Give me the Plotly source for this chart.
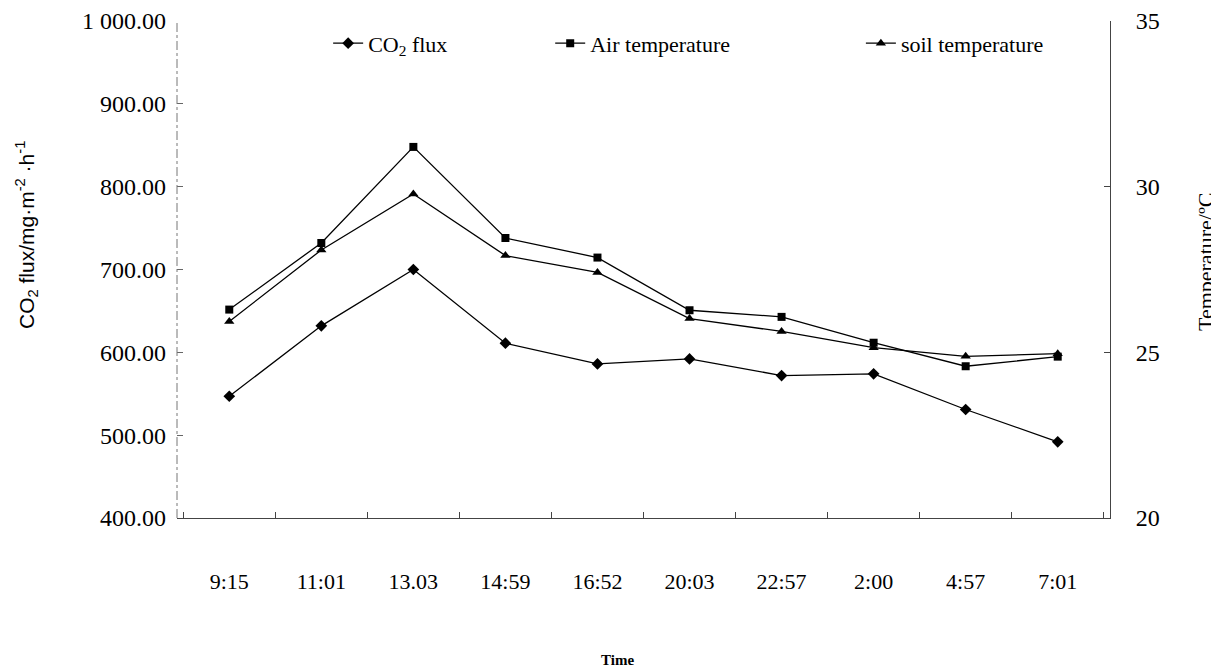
import plotly.graph_objects as go

times = ["9:15", "11:01", "13.03", "14:59", "16:52", "20:03", "22:57", "2:00", "4:57", "7:01"]
co2_flux = [547, 632, 700, 611, 586, 592, 572, 574, 531, 492]
air_temp = [26.29, 28.30, 31.20, 28.45, 27.86, 26.27, 26.07, 25.29, 24.58, 24.87]
soil_temp = [25.93, 28.09, 29.78, 27.92, 27.41, 26.02, 25.63, 25.14, 24.88, 24.96]

SERIF = "Liberation Serif, Times New Roman, serif"
SANS = "Liberation Sans, Arial, sans-serif"

fig = go.Figure()
fig.add_trace(go.Scatter(x=times, y=co2_flux, name="CO<sub>2</sub> flux", mode="lines+markers",
                         line=dict(color="black", width=1.3),
                         marker=dict(symbol="diamond", size=9, color="black"), legend="legend"))
fig.add_trace(go.Scatter(x=times, y=air_temp, name="Air temperature", mode="lines+markers", yaxis="y2",
                         line=dict(color="black", width=1.3),
                         marker=dict(symbol="square", size=8, color="black"), legend="legend2"))
fig.add_trace(go.Scatter(x=times, y=soil_temp, name="soil temperature", mode="lines+markers", yaxis="y2",
                         line=dict(color="black", width=1.3),
                         marker=dict(symbol="triangle-up", size=9, color="black"), legend="legend3"))

legend_common = dict(orientation="h", yanchor="middle", y=0.955, xanchor="left",
                     bgcolor="rgba(0,0,0,0)", font=dict(family=SERIF, size=22, color="black"),
                     itemwidth=30)

# page body adds an 8px offset; margins compensate so the plot area lands at x 177-1110, y 21-518
fig.update_layout(
    width=1219, height=670,
    margin=dict(l=169, r=117, t=13, b=160, autoexpand=False),
    paper_bgcolor="white", plot_bgcolor="white",
    separators=". ",
    showlegend=True,
    legend=dict(x=0.162, **legend_common),
    legend2=dict(x=0.40, **legend_common),
    legend3=dict(x=0.733, **legend_common),
    xaxis=dict(type="category", showline=True, linecolor="#444", linewidth=1, automargin=False,
               ticks="inside", tickson="boundaries", ticklen=6, tickcolor="#444",
               showgrid=False, zeroline=False,
               tickfont=dict(family=SERIF, size=22, color="black"), ticklabelstandoff=44),
    yaxis=dict(range=[400, 1000], dtick=100, tickformat=",.2f", showline=False, automargin=False,
               ticks="inside", ticklen=6, tickcolor="#666", showgrid=False, zeroline=False,
               tickfont=dict(family=SERIF, size=24, color="black"), ticklabelstandoff=10),
    yaxis2=dict(range=[20, 35], dtick=5, overlaying="y", side="right", showline=True, automargin=False,
                linecolor="#444", linewidth=1, ticks="inside", ticklen=6, tickcolor="#444",
                showgrid=False, zeroline=False,
                tickfont=dict(family=SERIF, size=24, color="black"), ticklabelstandoff=20),
    shapes=[dict(type="line", xref="paper", yref="paper", x0=0, x1=0, y0=0, y1=1,
                 line=dict(color="#777", width=1, dash="dashdot"))],
    annotations=[
        dict(text="CO<sub>2</sub> flux/mg·m<sup>-2</sup> ·h<sup>-1</sup>", textangle=-90,
             xref="paper", yref="paper", x=(27 - 177) / 933, y=1 - (235 - 21) / 497,
             xanchor="center", yanchor="middle", showarrow=False,
             font=dict(family=SANS, size=21, color="black")),
        dict(text="Temperature/ºC", textangle=-90,
             xref="paper", yref="paper", x=(1206 - 177) / 933, y=1 - (262 - 21) / 497,
             xanchor="center", yanchor="middle", showarrow=False,
             font=dict(family=SERIF, size=22, color="black")),
        dict(text="<b>Time</b>", xref="paper", yref="paper",
             x=(617 - 177) / 933, y=1 - (660 - 21) / 497,
             xanchor="center", yanchor="middle", showarrow=False,
             font=dict(family=SERIF, size=15, color="black")),
    ],
)

fig.write_html("out.html")
